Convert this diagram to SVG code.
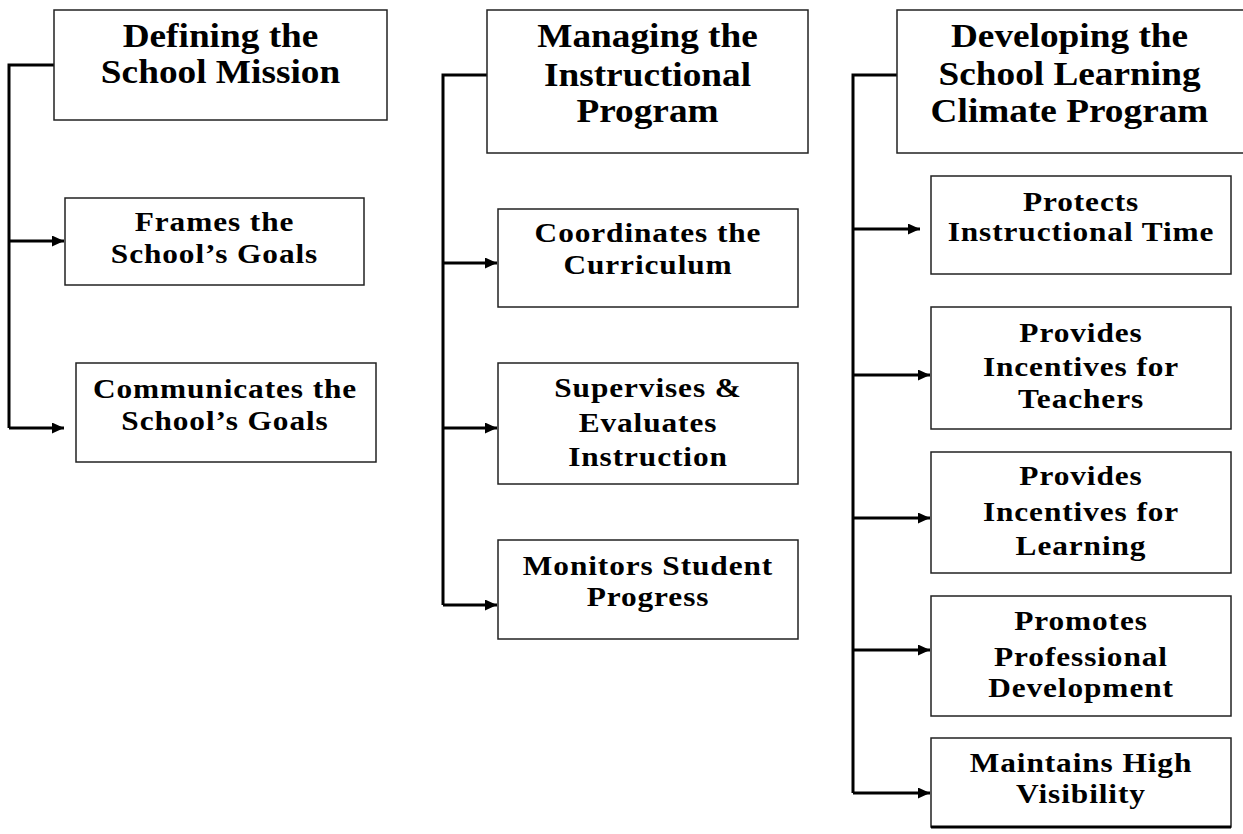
<svg xmlns="http://www.w3.org/2000/svg" width="1243" height="834" viewBox="0 0 1243 834">
<style>
.box{fill:#fff;stroke:#222;stroke-width:1.5}
.h{font-family:"Liberation Serif","Times New Roman",serif;font-weight:bold;font-size:33px;text-anchor:middle;fill:#000}
.c{font-family:"Liberation Serif","Times New Roman",serif;font-weight:bold;font-size:28px;letter-spacing:0.8px;text-anchor:middle;fill:#000}
.ln{fill:none;stroke:#000;stroke-width:3}
</style>
<defs>
<marker id="ah" markerUnits="userSpaceOnUse" markerWidth="13" markerHeight="11" refX="12" refY="5.5" orient="auto">
<path d="M0,0 L12,5.5 L0,11 Z" fill="#000"/>
</marker>
</defs>
<rect width="1243" height="834" fill="#fff"/>
<g id="connectors">
<path class="ln" d="M54,65 H9 V428"/>
<path class="ln" d="M9,241 H64" marker-end="url(#ah)"/>
<path class="ln" d="M9,428 H64" marker-end="url(#ah)"/>
<path class="ln" d="M487,75 H443 V605"/>
<path class="ln" d="M443,263 H497" marker-end="url(#ah)"/>
<path class="ln" d="M443,428 H497" marker-end="url(#ah)"/>
<path class="ln" d="M443,605 H497" marker-end="url(#ah)"/>
<path class="ln" d="M897,75 H853 V793"/>
<path class="ln" d="M853,229 H920" marker-end="url(#ah)"/>
<path class="ln" d="M853,375 H930" marker-end="url(#ah)"/>
<path class="ln" d="M853,518 H930" marker-end="url(#ah)"/>
<path class="ln" d="M853,650 H930" marker-end="url(#ah)"/>
<path class="ln" d="M853,793 H930" marker-end="url(#ah)"/>
</g>
<g id="n-mission">
<rect class="box" x="54" y="10" width="333" height="110"/>
<text class="h" transform="translate(220.5,0) scale(1.13,1)" x="0" y="47">Defining the</text>
<text class="h" transform="translate(220.5,0) scale(1.13,1)" x="0" y="83">School Mission</text>
</g>
<g id="n-frames">
<rect class="box" x="65" y="198" width="299" height="87"/>
<text class="c" transform="translate(214.5,0) scale(1.12,1)" x="0" y="231">Frames the</text>
<text class="c" transform="translate(214.5,0) scale(1.12,1)" x="0" y="263">School’s Goals</text>
</g>
<g id="n-communicates">
<rect class="box" x="76" y="363" width="300" height="99"/>
<text class="c" transform="translate(225,0) scale(1.12,1)" x="0" y="398">Communicates the</text>
<text class="c" transform="translate(225,0) scale(1.12,1)" x="0" y="430">School’s Goals</text>
</g>
<g id="n-managing">
<rect class="box" x="487" y="10" width="321" height="143"/>
<text class="h" transform="translate(647.5,0) scale(1.13,1)" x="0" y="47">Managing the</text>
<text class="h" transform="translate(647.5,0) scale(1.13,1)" x="0" y="86">Instructional</text>
<text class="h" transform="translate(647.5,0) scale(1.13,1)" x="0" y="122">Program</text>
</g>
<g id="n-coordinates">
<rect class="box" x="498" y="209" width="300" height="98"/>
<text class="c" transform="translate(648,0) scale(1.12,1)" x="0" y="242">Coordinates the</text>
<text class="c" transform="translate(648,0) scale(1.12,1)" x="0" y="274">Curriculum</text>
</g>
<g id="n-supervises">
<rect class="box" x="498" y="363" width="300" height="121"/>
<text class="c" transform="translate(648,0) scale(1.12,1)" x="0" y="397">Supervises &amp;</text>
<text class="c" transform="translate(648,0) scale(1.12,1)" x="0" y="432">Evaluates</text>
<text class="c" transform="translate(648,0) scale(1.12,1)" x="0" y="466">Instruction</text>
</g>
<g id="n-monitors">
<rect class="box" x="498" y="540" width="300" height="99"/>
<text class="c" transform="translate(648,0) scale(1.12,1)" x="0" y="575">Monitors Student</text>
<text class="c" transform="translate(648,0) scale(1.12,1)" x="0" y="606">Progress</text>
</g>
<g id="n-climate">
<rect class="box" x="897" y="10" width="350" height="143"/>
<text class="h" transform="translate(1069.5,0) scale(1.13,1)" x="0" y="47">Developing the</text>
<text class="h" transform="translate(1069.5,0) scale(1.13,1)" x="0" y="85">School Learning</text>
<text class="h" transform="translate(1069.5,0) scale(1.13,1)" x="0" y="122">Climate Program</text>
</g>
<g id="n-protects">
<rect class="box" x="931" y="176" width="300" height="98"/>
<text class="c" transform="translate(1081,0) scale(1.12,1)" x="0" y="211">Protects</text>
<text class="c" transform="translate(1081,0) scale(1.12,1)" x="0" y="241">Instructional Time</text>
</g>
<g id="n-teachers">
<rect class="box" x="931" y="307" width="300" height="122"/>
<text class="c" transform="translate(1081,0) scale(1.12,1)" x="0" y="342">Provides</text>
<text class="c" transform="translate(1081,0) scale(1.12,1)" x="0" y="376">Incentives for</text>
<text class="c" transform="translate(1081,0) scale(1.12,1)" x="0" y="408">Teachers</text>
</g>
<g id="n-learning">
<rect class="box" x="931" y="452" width="300" height="121"/>
<text class="c" transform="translate(1081,0) scale(1.12,1)" x="0" y="485">Provides</text>
<text class="c" transform="translate(1081,0) scale(1.12,1)" x="0" y="521">Incentives for</text>
<text class="c" transform="translate(1081,0) scale(1.12,1)" x="0" y="555">Learning</text>
</g>
<g id="n-promotes">
<rect class="box" x="931" y="596" width="300" height="120"/>
<text class="c" transform="translate(1081,0) scale(1.12,1)" x="0" y="630">Promotes</text>
<text class="c" transform="translate(1081,0) scale(1.12,1)" x="0" y="666">Professional</text>
<text class="c" transform="translate(1081,0) scale(1.12,1)" x="0" y="697">Development</text>
</g>
<g id="n-maintains">
<rect class="box" x="931" y="738" width="300" height="89"/>
<line x1="931" y1="827" x2="1231" y2="827" stroke="#000" stroke-width="3"/>
<text class="c" transform="translate(1081,0) scale(1.12,1)" x="0" y="772">Maintains High</text>
<text class="c" transform="translate(1081,0) scale(1.12,1)" x="0" y="803">Visibility</text>
</g>
</svg>
